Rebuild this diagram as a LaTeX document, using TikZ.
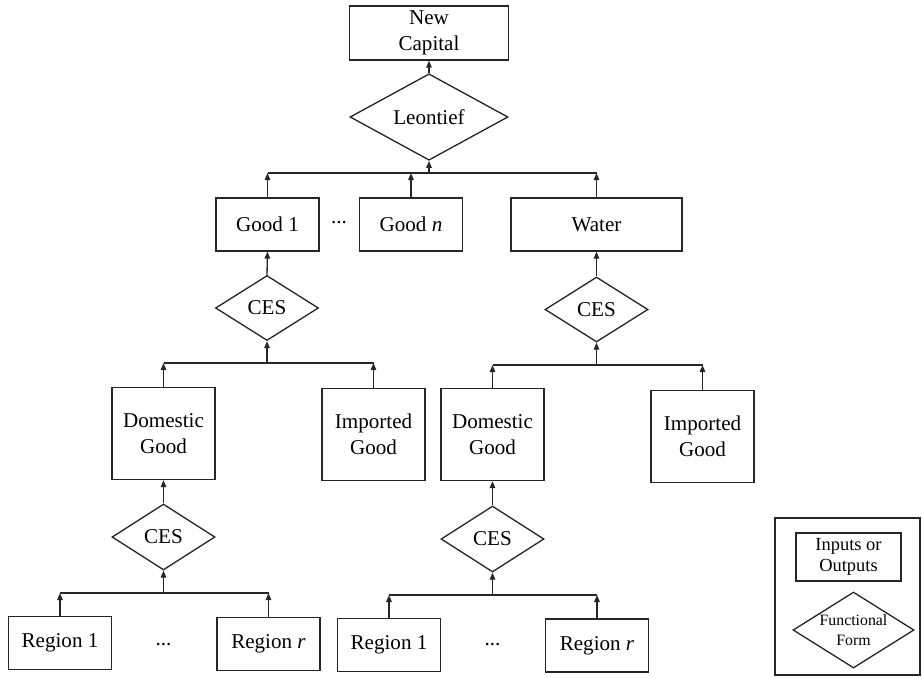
\documentclass[tikz,border=0pt]{standalone}
\usepackage{fontspec}
\setmainfont{Liberation Serif}
\usetikzlibrary{shapes.geometric,arrows.meta}

\begin{document}
\begin{tikzpicture}[x=0.02cm,y=-0.02cm,line width=0.75pt,
 box/.style={draw=black!85,rectangle,inner sep=0pt,minimum width=103*0.02cm,minimum height=53*0.02cm,
  align=center,font=\fontsize{12}{14.5}\selectfont},
 form/.style={draw=black!85,diamond,inner sep=0pt,minimum width=103*0.02cm,minimum height=65*0.02cm,
  font=\fontsize{12}{14}\selectfont},
 tip/.style={draw=black!85,-{Triangle[length=0.14cm,width=0.11cm]}},
 bus/.style={draw=black!85},
 gap/.style={anchor=base,font=\fontsize{12}{14}\selectfont}]

\useasboundingbox (0,0) rectangle (922,677);

% top level
 \node[box,minimum width=159*0.02cm,minimum height=54*0.02cm] (cap) at (429,33) {New\\Capital};
 \node[form,minimum width=158*0.02cm,minimum height=66*0.02cm] (leon) at (429,117) {Leontief};
 \node[box] (g1) at (267.5,224.5) {Good 1};
 \node[box] (gn) at (411,224.5) {Good \textit{n}};
 \node[box,minimum width=171*0.02cm] (wat) at (596.5,224.5) {Water};
 \node[gap] (d0) at (339,223) {...};
 \coordinate (b0) at (429,173);
 \draw[tip] (leon.north) -- (cap.south);
 \draw[tip] (b0) -- (leon.south);
 \draw[bus] (g1.north |- b0) -- (wat.north |- b0);
 \foreach \n in {g1,gn,wat} {
  \draw[tip] (\n.north) -- (\n.north |- b0);
 }

% goods branch
 \node[form] (ces1) at (267,308) {CES};
 \node[box,minimum height=92*0.02cm] (dom1) at (163.5,433.5) {Domestic\\Good};
 \node[box,minimum height=92*0.02cm] (imp1) at (373.5,434.5) {Imported\\Good};
 \node[form,minimum height=66*0.02cm] (ces2) at (163.5,537) {CES};
 \node[box] (reg1) at (60,643) {Region 1};
 \node[box] (regr) at (268.5,644) {Region \textit{r}};
 \node[gap] (d1) at (163.5,645) {...};
 \coordinate (b1) at (267,363);
 \coordinate (b2) at (163.5,593);
 \draw[tip] (ces1.north) -- (g1.south);
 \draw[tip] (b1) -- (ces1.south);
 \draw[bus] (dom1.north |- b1) -- (imp1.north |- b1);
 \draw[tip] (dom1.north) -- (dom1.north |- b1);
 \draw[tip] (imp1.north) -- (imp1.north |- b1);
 \draw[tip] (ces2.north) -- (dom1.south);
 \draw[tip] (b2) -- (ces2.south);
 \draw[bus] (reg1.north |- b2) -- (regr.north |- b2);
 \draw[tip] (reg1.north) -- (reg1.north |- b2);
 \draw[tip] (regr.north) -- (regr.north |- b2);

% water branch
 \node[form] (ces3) at (596.5,309.5) {CES};
 \node[box,minimum height=92*0.02cm] (dom2) at (492.5,434.5) {Domestic\\Good};
 \node[box,minimum height=92*0.02cm] (imp2) at (702.5,436.5) {Imported\\Good};
 \node[form,minimum height=66*0.02cm] (ces4) at (492.5,539) {CES};
 \node[box] (reg3) at (389,645) {Region 1};
 \node[box] (reg4) at (597,645.5) {Region \textit{r}};
 \node[gap] (d2) at (492.5,645) {...};
 \coordinate (b3) at (596.5,365);
 \coordinate (b4) at (492.5,595);
 \draw[tip] (ces3.north) -- (wat.south);
 \draw[tip] (b3) -- (ces3.south);
 \draw[bus] (dom2.north |- b3) -- (imp2.north |- b3);
 \draw[tip] (dom2.north) -- (dom2.north |- b3);
 \draw[tip] (imp2.north) -- (imp2.north |- b3);
 \draw[tip] (ces4.north) -- (dom2.south);
 \draw[tip] (b4) -- (ces4.south);
 \draw[bus] (reg3.north |- b4) -- (reg4.north |- b4);
 \draw[tip] (reg3.north) -- (reg3.north |- b4);
 \draw[tip] (reg4.north) -- (reg4.north |- b4);

% legend
 \draw[draw=black!85] (775,518) rectangle (920,675);
 \node[box,minimum width=105*0.02cm,minimum height=48*0.02cm,font=\fontsize{10.5}{11.5}\selectfont] (lin) at (848.5,557) {Inputs or\\Outputs};
 \node[form,aspect=1.7,minimum width=121*0.02cm,minimum height=76*0.02cm,align=center,font=\fontsize{9}{11.5}\selectfont] (lfun) at (853.5,630) {Functional\\Form};
\end{tikzpicture}
\end{document}
